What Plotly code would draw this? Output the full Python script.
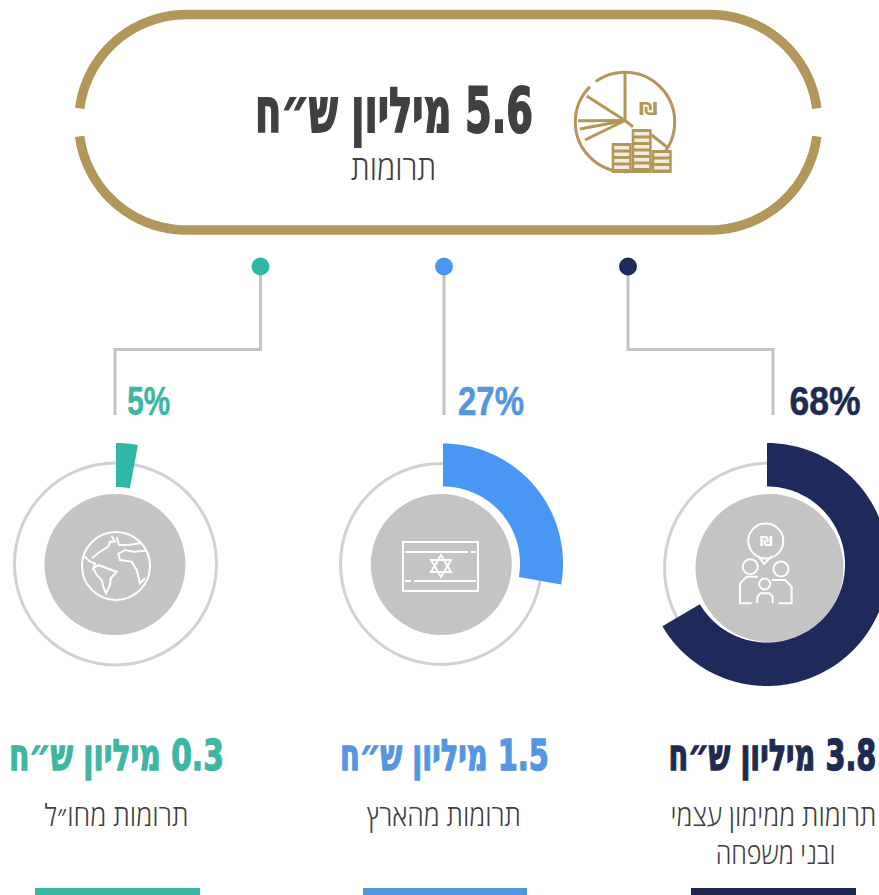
import json
import numpy as np
import plotly.graph_objects as go

# ---- data ----
TOTAL_AMOUNT = "5.6"
TOTAL_LABEL = "תרומות"
categories = ["תרומות מחו״ל", "תרומות מהארץ", "תרומות ממימון עצמי"]
amounts = ["0.3", "1.5", "3.8"]
share_labels = ["5%", "27%", "68%"]
arc_share = [2.9, 27.8, 66.5]          # share of the circle the arcs actually sweep
UNIT = "מיליון ש״ח"

# ---- styles / layout ----
W, H = 879, 895
GOLD = "#b39659"
DARK = "#404040"
arc_colors = ["#2fb9a5", "#4a96f5", "#1f2a5c"]
text_colors = ["#3fb6a4", "#5496e2", "#1f2a50"]
bar_colors = ["#3bb5a2", "#5494e0", "#1e2750"]
RING = "#cfd0da"
DISC = "#c4c4c4"
LINE = "#c4c4c4"
arc_geo = [(116, 564, 121, 77), (443, 563.5, 120, 77), (767, 564.5, 121.5, 78)]
disc_geo = [(115, 564.5, 70.5), (441.3, 564.5, 70.5), (769.5, 568, 74)]
ring_geo = [(115.5, 564, 101), (441, 564, 100.5), (769.5, 568, 105)]
dot_x = [260.5, 444, 628]
conn_x = [[260.5, 260.5, 115, 115], [444, 444, 444, 444], [628, 628, 773, 773]]
conn_y = [266.5, 349.5, 349.5, 415]
bars = [(35, 200), (363, 527), (691, 856)]

fig = go.Figure()
shapes, ann, widths, strokes = [], [], [], []


def text(x, y, s, size, color, width=None, family="DejaVu Sans", weight=700, stroke=0):
    ann.append(dict(x=x, y=y, text=s, showarrow=False, xanchor="center", yanchor="middle",
                    font=dict(family=family, size=size, color=color, weight=weight)))
    widths.append(width)
    strokes.append(stroke)


def circle(cx, cy, r, line=None, lw=2, fill="rgba(0,0,0,0)", layer="above"):
    shapes.append(dict(type="circle", x0=cx - r, x1=cx + r, y0=cy - r, y1=cy + r, layer=layer,
                       fillcolor=fill, line=dict(color=line or "rgba(0,0,0,0)", width=lw if line else 0)))


def poly(pts, color="white", lw=2, closed=False):
    d = "M" + " L".join(f"{x:.1f},{y:.1f}" for x, y in pts) + (" Z" if closed else "")
    shapes.append(dict(type="path", path=d, layer="above", line=dict(color=color, width=lw)))


def rect(x0, y0, x1, y1, fill, line=None, lw=2):
    shapes.append(dict(type="rect", x0=x0, x1=x1, y0=y0, y1=y1, layer="above", fillcolor=fill,
                       line=dict(color=line or "rgba(0,0,0,0)", width=lw if line else 0)))


# ---- capsule outline (two open halves) ----
cl, cr, cy, r = 186.5, 710, 122.3, 107.7
gap = np.arcsin(14 / r)
tt = np.linspace(gap, np.pi / 2, 120)
for sign in (-1, 1):
    xs = [cl - r * np.cos(a) for a in tt] + [cr + r * np.cos(a) for a in tt[::-1]]
    ys = [cy + sign * r * np.sin(a) for a in tt] + [cy + sign * r * np.sin(a) for a in tt[::-1]]
    fig.add_trace(go.Scatter(x=xs, y=ys, mode="lines", line=dict(color=GOLD, width=9.5, simplify=False),
                             hoverinfo="skip", showlegend=False))

# ---- donuts: rings, discs, arcs ----
for i in range(3):
    circle(*ring_geo[i], line=RING, lw=3, layer="below")
    circle(*disc_geo[i], fill=DISC, layer="below")
    cx, cy_, ro, ri = arc_geo[i]
    theta = np.radians(np.linspace(0, arc_share[i] * 3.6, 200))
    x = np.r_[cx + ro * np.sin(theta), cx + ri * np.sin(theta[::-1])]
    y = np.r_[cy_ - ro * np.cos(theta), cy_ - ri * np.cos(theta[::-1])]
    fig.add_trace(go.Scatter(x=x, y=y, mode="lines", fill="toself", fillcolor=arc_colors[i],
                             line=dict(width=0, simplify=False), hoverinfo="skip", showlegend=False,
                             name=categories[i]))

# ---- connectors and dots ----
for i in range(3):
    fig.add_trace(go.Scatter(x=conn_x[i], y=conn_y, mode="lines", line=dict(color=LINE, width=3),
                             hoverinfo="skip", showlegend=False))
    fig.add_trace(go.Scatter(x=[dot_x[i]], y=[conn_y[0]], mode="markers",
                             marker=dict(size=18, color=arc_colors[i]), hoverinfo="skip", showlegend=False))

# ---- bottom bars ----
for i, (a, b) in enumerate(bars):
    rect(a, 888, b, 896, bar_colors[i])

# ---- top icon ----
circle(625, 122, 49.7, line=GOLD, lw=3)
poly([(590, 87), (596, 82)], "white", 5)
for ex, ey in [(625, 72), (586.7, 96), (578, 120.7), (580, 129), (585, 140), (633, 126.7)]:
    poly([(625, 120.5), (ex, ey)], GOLD, 3)
poly([(651.7, 135), (668, 148)], GOLD, 3)
for x0, x1, y0 in [(611.7, 631.7, 143), (631.7, 651.7, 129), (651.7, 671.7, 150)]:
    rect(x0, y0, x1, 173, GOLD)
    yy = y0 + 3
    while yy < 169:
        rect(x0 + 2.5, yy, x1 - 2.5, yy + 3.5, "#f3ecdc")
        yy += 6.5
text(647.5, 108, "₪", 18, GOLD, 19)

# ---- globe icon ----
circle(116, 566, 34, line="white", lw=2)
z = lambda pts: [(a / 3, b / 3 + 430) for a, b in pts]
poly(z([(255, 380), (270, 395), (285, 400), (280, 415), (295, 405), (310, 410), (335, 420), (350, 425),
        (332, 445), (330, 465), (318, 490), (310, 470), (305, 450), (290, 435), (280, 415)]))
poly(z([(275, 385), (300, 365), (325, 350), (330, 335), (345, 335), (335, 318)]))
poly(z([(350, 320), (357, 345), (385, 345), (420, 340)]))
poly(z([(440, 362), (400, 365), (375, 360), (355, 372), (360, 390), (395, 395), (410, 420), (420, 460), (435, 445)]))

# ---- flag icon ----
rect(403, 542, 478, 591, "rgba(0,0,0,0)", "white", 2)
poly([(405, 552), (468, 552)]); poly([(471, 552), (476, 552)])
poly([(405, 581), (411, 581)]); poly([(414, 581), (476, 581)])
poly([(441, 555), (451, 572), (431, 572)], closed=True)
poly([(441, 577), (451, 560), (431, 560)], closed=True)

# ---- family icon ----
circle(765.8, 541, 17.5, line="white", lw=2)
poly([(758, 556), (764, 564), (772, 556)])
circle(750.3, 566.7, 7.5, line="white", lw=2)
circle(781, 569, 7.5, line="white", lw=2)
circle(764.7, 584, 5.5, line="white", lw=2)
poly([(758, 576.7), (746.7, 576.7), (740, 583.3), (740, 603.3), (751.7, 603.3)])
poly([(771.7, 580), (785, 580), (791.7, 586.7), (791.7, 603.3), (778.3, 603.3)])
poly([(757.3, 603.3), (757.3, 596.7), (760.7, 593.3), (769.3, 593.3), (772.7, 596.7), (772.7, 603.3)])
text(766, 541, "₪", 14, "white", 13)

# ---- text ----
RLM = "\u200f"
text(394, 110, f"{RLM}{TOTAL_AMOUNT} {UNIT}", 62, DARK, 278, stroke=1.6)
text(393, 167, TOTAL_LABEL, 34, DARK, 85, family="Open Sans", weight=300)
pct_pos = [(148.5, 43), (491, 66), (824.5, 71)]
head_pos = [(116, 215), (444.5, 209), (772, 208)]
for i in range(3):
    text(pct_pos[i][0], 401, share_labels[i], 41, text_colors[i], pct_pos[i][1],
         family="Liberation Sans", stroke=0.5)
    text(head_pos[i][0], 755, f"{RLM}{amounts[i]} {UNIT}", 43, text_colors[i], head_pos[i][1], stroke=1.2)
text(116, 814, categories[0], 30, DARK, 144, family="Open Sans", weight=300)
text(444, 814, categories[1], 30, DARK, 154, family="Open Sans", weight=300)
text(773, 814, categories[2], 30, DARK, 206, family="Open Sans", weight=300)
text(775, 852, "ובני משפחה", 30, DARK, 120, family="Open Sans", weight=300)

fig.update_layout(
    width=W, height=H, margin=dict(l=0, r=0, t=0, b=0), autosize=False,
    paper_bgcolor="white", plot_bgcolor="white", showlegend=False,
    xaxis=dict(range=[0, W], visible=False, fixedrange=True),
    yaxis=dict(range=[H, 0], visible=False, fixedrange=True),
    shapes=shapes, annotations=ann,
)

post = """
document.body.style.margin='0';
document.body.style.overflow='hidden';
var w=%s, st=%s;
var gd=document.getElementById('{plot_id}');
gd.querySelectorAll('.annotation').forEach(function(a){
  var i=+a.getAttribute('data-index');
  var t=a.querySelector('text.annotation-text');
  if(!t) return;
  if(w[i]){
    var s=w[i]/t.getComputedTextLength();
    var b=t.getBBox();
    var cx=b.x+b.width/2;
    var prev=t.getAttribute('transform')||'';
    t.setAttribute('transform',prev+' translate('+cx+',0) scale('+s+',1) translate('+(-cx)+',0)');
  }
  if(st[i]){t.style.stroke=t.style.fill;t.style.strokeWidth=st[i]+'px';t.style.vectorEffect='non-scaling-stroke';}
});
""" % (json.dumps(widths), json.dumps(strokes))
fig.write_html("out.html", post_script=post, config={"displayModeBar": False, "staticPlot": True})
